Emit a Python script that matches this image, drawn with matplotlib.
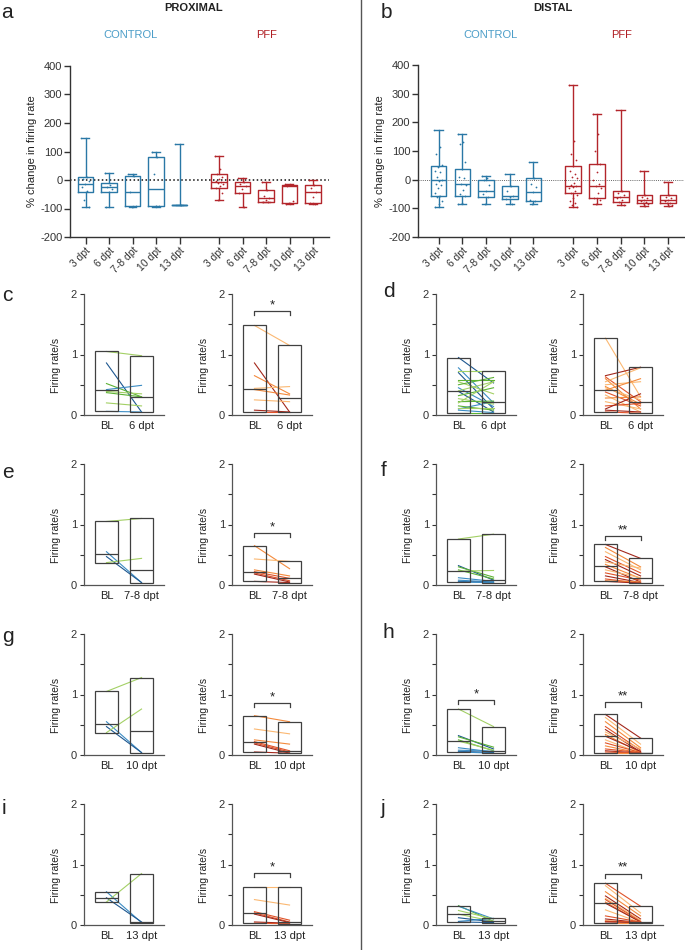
import matplotlib
matplotlib.use('Agg')
import matplotlib.pyplot as plt
import numpy as np

plt.rcParams['font.family'] = ['Liberation Sans', 'DejaVu Sans']
plt.rcParams['axes.unicode_minus'] = False

# ---------------- data ----------------
timepoints = ['3 dpt', '6 dpt', '7-8 dpt', '10 dpt', '13 dpt']

# panel a (proximal) box stats: max, q3, median, q1, min  (% change)
a_ctrl_max = [146, 23, 20, 99, 128]
a_ctrl_q3 = [12, -9, 14, 79, -88]
a_ctrl_med = [-14, -26, -42, -33, -88]
a_ctrl_q1 = [-41, -42, -92, -92, -88]
a_ctrl_min = [-93, -96, -93, -93, -88]
a_pff_max = [84, 8, -8, -15, 0]
a_pff_q3 = [20, -6, -35, -18, -18]
a_pff_med = [-6, -20, -64, -21, -43]
a_pff_q1 = [-27, -47, -76, -82, -82]
a_pff_min = [-70, -93, -78, -83, -83]

# panel b (distal)
b_ctrl_max = [173, 161, 13, 21, 63]
b_ctrl_q3 = [48, 37, -2, -21, 5]
b_ctrl_med = [0, -16, -40, -56, -44]
b_ctrl_q1 = [-58, -56, -61, -66, -76]
b_ctrl_min = [-96, -86, -86, -84, -84]
b_pff_max = [329, 230, 243, 30, -8]
b_pff_q3 = [48, 53, -38, -55, -52]
b_pff_med = [-23, -21, -61, -70, -72]
b_pff_q1 = [-47, -63, -77, -82, -82]
b_pff_min = [-96, -84, -90, -91, -93]

# individual points
a_ctrl_pts = [[146, 12, 5, -5, -14, -25, -40, -70, -93],
              [23, -18, -26, -32, -42, -96],
              [20, 14, -42, -90, -93],
              [99, 79, 22, -90, -92],
              [128, -88]]
a_pff_pts = [[84, 40, 20, 12, 5, -3, -6, -10, -15, -20, -27, -45, -70],
             [8, -6, -15, -20, -30, -47, -93],
             [-8, -35, -55, -64, -70, -76, -78],
             [-15, -18, -21, -75, -82, -83],
             [0, -18, -28, -43, -60, -82, -83]]
b_ctrl_pts = [[173, 115, 90, 50, 45, 30, 25, 10, 0, -5, -15, -20, -30, -45, -58, -60, -75, -85, -96],
              [161, 130, 125, 60, 37, 10, 5, -16, -20, -35, -50, -56, -80, -86],
              [13, 5, -2, -20, -40, -50, -61, -86],
              [21, -21, -40, -56, -60, -66, -84],
              [63, 5, -15, -25, -44, -70, -76, -84]]
b_pff_pts = [[329, 135, 90, 70, 48, 30, 20, 10, 5, -10, -18, -23, -25, -30, -40, -47, -55, -65, -75, -80, -90, -96],
             [230, 160, 100, 53, 25, 0, -15, -21, -30, -45, -63, -70, -84],
             [243, -38, -45, -55, -61, -65, -70, -77, -90],
             [30, -55, -60, -65, -70, -75, -78, -82, -85, -91],
             [-8, -52, -60, -65, -72, -75, -80, -82, -90, -93]]

# paired panels: baseline (BL) and post values per cell, colour index
c_ctrl_bl = [1.05, 0.86, 0.52, 0.42, 0.39, 0.37, 0.20, 0.06]
c_ctrl_post = [0.98, 0.05, 0.30, 0.49, 0.35, 0.30, 0.15, 0.05]
c_ctrl_col = [0, 3, 1, 2, 0, 1, 0, 2]
c_pff_bl = [1.48, 0.86, 0.65, 0.44, 0.42, 0.25, 0.08, 0.05]
c_pff_post = [1.15, 0.05, 0.35, 0.47, 0.33, 0.22, 0.05, 0.05]
c_pff_col = [0, 3, 1, 0, 1, 0, 3, 2]

d_ctrl_bl = [0.95, 0.78, 0.70, 0.45, 0.39, 0.08, 0.10, 0.72, 0.58, 0.55, 0.50, 0.40, 0.32, 0.27, 0.22, 0.20, 0.15, 0.12, 0.04]
d_ctrl_post = [0.53, 0.20, 0.10, 0.14, 0.05, 0.04, 0.22, 0.72, 0.58, 0.35, 0.62, 0.55, 0.45, 0.18, 0.23, 0.55, 0.08, 0.12, 0.04]
d_ctrl_col = [3, 2, 3, 2, 3, 2, 2, 0, 1, 0, 1, 0, 1, 0, 1, 0, 1, 0, 1]
d_pff_bl = [1.27, 0.65, 0.63, 0.60, 0.55, 0.50, 0.47, 0.45, 0.41, 0.38, 0.33, 0.28, 0.22, 0.15, 0.10, 0.08, 0.05]
d_pff_post = [0.30, 0.79, 0.22, 0.10, 0.78, 0.55, 0.18, 0.25, 0.60, 0.15, 0.05, 0.30, 0.10, 0.19, 0.35, 0.05, 0.03]
d_pff_col = [0, 3, 2, 1, 0, 0, 1, 0, 1, 2, 0, 1, 0, 2, 3, 3, 2]

e_ctrl_bl = [1.05, 0.55, 0.47, 0.37]
e_ctrl_post = [1.10, 0.04, 0.04, 0.44]
e_ctrl_col = [0, 2, 3, 0]
e_pff_bl = [0.65, 0.43, 0.25, 0.22, 0.20, 0.18, 0.06]
e_pff_post = [0.27, 0.39, 0.15, 0.11, 0.07, 0.05, 0.04]
e_pff_col = [1, 0, 1, 2, 2, 3, 3]

f_ctrl_bl = [0.76, 0.32, 0.30, 0.25, 0.23, 0.12, 0.08, 0.06, 0.05]
f_ctrl_post = [0.84, 0.08, 0.13, 0.10, 0.24, 0.06, 0.05, 0.04, 0.04]
f_ctrl_col = [0, 3, 1, 1, 0, 2, 2, 3, 2]
f_pff_bl = [0.67, 0.62, 0.55, 0.47, 0.42, 0.38, 0.34, 0.30, 0.25, 0.20, 0.15, 0.10, 0.07, 0.06]
f_pff_post = [0.44, 0.30, 0.25, 0.20, 0.15, 0.28, 0.11, 0.05, 0.12, 0.08, 0.04, 0.03, 0.05, 0.03]
f_pff_col = [3, 1, 0, 2, 3, 0, 1, 3, 0, 2, 3, 2, 1, 3]

g_ctrl_bl = [1.05, 0.55, 0.47, 0.37]
g_ctrl_post = [1.28, 0.04, 0.04, 0.76]
g_ctrl_col = [0, 2, 3, 0]
g_pff_bl = [0.65, 0.43, 0.25, 0.22, 0.20, 0.18, 0.05]
g_pff_post = [0.55, 0.35, 0.18, 0.07, 0.05, 0.03, 0.03]
g_pff_col = [1, 0, 1, 2, 2, 3, 3]

h_ctrl_bl = [0.76, 0.32, 0.30, 0.25, 0.23, 0.12, 0.08, 0.06, 0.05]
h_ctrl_post = [0.47, 0.10, 0.13, 0.07, 0.08, 0.05, 0.06, 0.04, 0.03]
h_ctrl_col = [0, 3, 1, 1, 0, 2, 2, 3, 2]
h_pff_bl = [0.67, 0.62, 0.55, 0.47, 0.42, 0.38, 0.34, 0.31, 0.25, 0.20, 0.15, 0.10, 0.07, 0.05, 0.03]
h_pff_post = [0.28, 0.18, 0.12, 0.08, 0.05, 0.10, 0.04, 0.06, 0.03, 0.04, 0.03, 0.04, 0.03, 0.03, 0.03]
h_pff_col = [3, 0, 1, 2, 3, 0, 1, 3, 0, 2, 1, 2, 3, 2, 1]

i_ctrl_bl = [0.55, 0.45, 0.38]
i_ctrl_post = [0.04, 0.05, 0.85]
i_ctrl_col = [2, 3, 0]
i_pff_bl = [0.63, 0.42, 0.22, 0.20, 0.18, 0.05, 0.03]
i_pff_post = [0.63, 0.33, 0.08, 0.05, 0.04, 0.03, 0.02]
i_pff_col = [0, 0, 2, 2, 3, 3, 2]

j_ctrl_bl = [0.32, 0.31, 0.24, 0.18, 0.12, 0.06, 0.05]
j_ctrl_post = [0.06, 0.10, 0.10, 0.06, 0.05, 0.11, 0.04]
j_ctrl_col = [1, 2, 0, 0, 3, 2, 3]
j_pff_bl = [0.69, 0.65, 0.55, 0.48, 0.44, 0.42, 0.38, 0.36, 0.25, 0.15, 0.10, 0.07, 0.06, 0.05, 0.04]
j_pff_post = [0.31, 0.20, 0.15, 0.10, 0.08, 0.06, 0.05, 0.05, 0.04, 0.05, 0.04, 0.04, 0.05, 0.04, 0.04]
j_pff_col = [2, 0, 1, 3, 0, 2, 1, 3, 0, 2, 3, 1, 2, 3, 1]

# ---------------- style ----------------
CTRL = '#2a78a6'
CTRL_TXT = '#4b9dc8'
PFF = '#b3262c'
PFF_TXT = '#b01f24'
ctrl_pal = ['#a3d065', '#5db234', '#3b8cc4', '#1d5790']
pff_pal = ['#fbb872', '#f48a3c', '#e0542a', '#a3281c']
GREY = '#404040'

W, H = 685, 950
fig = plt.figure(figsize=(6.85, 9.5), dpi=100)


def add_ax(l, t, r, b):
    return fig.add_axes([l / W, 1 - b / H, (r - l) / W, (b - t) / H])


def ftext(x, y, s, **kw):
    fig.text(x / W, 1 - y / H, s, **kw)


pos_ctrl = np.arange(5)
pos_pff = np.arange(5) + 5.68


def box_panel(l, t, r, b, xlim, ctrl_stats, pff_stats, ctrl_pts, pff_pts, zero_style):
    ax = add_ax(l, t, r, b)
    for pos, st, pts, col in ((pos_ctrl, ctrl_stats, ctrl_pts, CTRL), (pos_pff, pff_stats, pff_pts, PFF)):
        mx, q3, md, q1, mn = st
        stats = [dict(med=md[i], q1=q1[i], q3=q3[i], whislo=mn[i], whishi=mx[i]) for i in range(5)]
        ax.bxp(stats, positions=pos, widths=0.66, showfliers=False, patch_artist=False,
               boxprops=dict(color=col, lw=1.0), whiskerprops=dict(color=col, lw=1.0),
               capprops=dict(color=col, lw=1.0), medianprops=dict(color=col, lw=1.0),
               manage_ticks=False)
        for i, p in enumerate(pts):
            n = len(p)
            jit = ((np.arange(n) * 0.618) % 1 - 0.5) * 0.36
            ax.scatter(pos[i] + jit, p, s=1.6, color=col, lw=0, zorder=3)
    ax.axhline(0, **zero_style)
    ax.set_xlim(*xlim)
    ax.set_ylim(-200, 400)
    ax.set_yticks(np.arange(-200, 401, 100))
    ax.set_xticks(np.concatenate([pos_ctrl, pos_pff]))
    ax.set_xticklabels(timepoints * 2, rotation=45, ha='right', rotation_mode='anchor')
    for s in ('top', 'right'):
        ax.spines[s].set_visible(False)
    for s in ('left', 'bottom'):
        ax.spines[s].set_color('#333333')
        ax.spines[s].set_linewidth(1.0)
    ax.tick_params(axis='both', labelsize=8, colors='#333333', length=4, width=1.0, pad=1.5)
    ax.tick_params(axis='x', length=5, pad=1, labelsize=7.5)
    ax.set_ylabel('% change in firing rate', fontsize=8, color='#222222', labelpad=2)
    return ax


box_panel(70, 66, 329, 237, (-0.66, 10.36),
          (a_ctrl_max, a_ctrl_q3, a_ctrl_med, a_ctrl_q1, a_ctrl_min),
          (a_pff_max, a_pff_q3, a_pff_med, a_pff_q1, a_pff_min),
          a_ctrl_pts, a_pff_pts,
          dict(color='#111111', lw=1.1, ls=(0, (1, 1.6)), zorder=0))
box_panel(418, 65, 684, 237, (-0.87, 10.35),
          (b_ctrl_max, b_ctrl_q3, b_ctrl_med, b_ctrl_q1, b_ctrl_min),
          (b_pff_max, b_pff_q3, b_pff_med, b_pff_q1, b_pff_min),
          b_ctrl_pts, b_pff_pts,
          dict(color='#666666', lw=0.7, ls=(0, (1, 1.2)), zorder=0))


def paired(l, t, r, b, bl, post, cols, pal, xlab, sig=None, sig_y=None):
    ax = add_ax(l, t, r, b)
    bl = np.asarray(bl, float)
    post = np.asarray(post, float)
    for y0, y1, ci in zip(bl, post, cols):
        ax.plot([0, 1], [y0, y1], color=pal[ci], lw=0.8, zorder=2)
    for x, vals in ((0, bl), (1, post)):
        lo, hi, med = vals.min(), vals.max(), np.median(vals)
        ax.bar(x, hi - lo, bottom=lo, width=0.66, fill=False, edgecolor=GREY, lw=0.9, zorder=3)
        ax.hlines(med, x - 0.33, x + 0.33, color=GREY, lw=0.9, zorder=3)
    if sig:
        ax.plot([0, 0, 1, 1], [sig_y - 0.07, sig_y, sig_y, sig_y - 0.07], color=GREY, lw=0.9)
        ax.text(0.5, sig_y + 0.0, sig, ha='center', va='bottom', fontsize=9.5, color='#222222')
    ax.set_xlim(-0.64, 1.64)
    ax.set_ylim(0, 2)
    ax.set_yticks([0, 0.5, 1, 1.5, 2])
    ax.set_yticklabels(['0', '', '1', '', '2'])
    ax.set_xticks([0, 1])
    ax.set_xticklabels(['BL', xlab])
    for s in ('top', 'right'):
        ax.spines[s].set_visible(False)
    for s in ('left', 'bottom'):
        ax.spines[s].set_color('#555555')
        ax.spines[s].set_linewidth(0.9)
    ax.tick_params(axis='y', labelsize=8, colors='#333333', length=3, width=0.8, pad=2)
    ax.tick_params(axis='x', labelsize=8, colors='#222222', length=0, pad=4)
    ax.set_ylabel('Firing rate/s', fontsize=7.5, color='#222222')
    ax.yaxis.set_label_coords(-0.29, 0.41)
    return ax


rows = [(294, 415), (464, 585), (634, 755), (804, 925)]
cols_x = [(84, 164), (232, 312), (436, 516), (583, 663)]
labels_post = ['6 dpt', '7-8 dpt', '10 dpt', '13 dpt']

panels = [
    [(c_ctrl_bl, c_ctrl_post, c_ctrl_col, None, None), (c_pff_bl, c_pff_post, c_pff_col, '*', 1.72),
     (d_ctrl_bl, d_ctrl_post, d_ctrl_col, None, None), (d_pff_bl, d_pff_post, d_pff_col, None, None)],
    [(e_ctrl_bl, e_ctrl_post, e_ctrl_col, None, None), (e_pff_bl, e_pff_post, e_pff_col, '*', 0.86),
     (f_ctrl_bl, f_ctrl_post, f_ctrl_col, None, None), (f_pff_bl, f_pff_post, f_pff_col, '**', 0.81)],
    [(g_ctrl_bl, g_ctrl_post, g_ctrl_col, None, None), (g_pff_bl, g_pff_post, g_pff_col, '*', 0.86),
     (h_ctrl_bl, h_ctrl_post, h_ctrl_col, '*', 0.91), (h_pff_bl, h_pff_post, h_pff_col, '**', 0.87)],
    [(i_ctrl_bl, i_ctrl_post, i_ctrl_col, None, None), (i_pff_bl, i_pff_post, i_pff_col, '*', 0.86),
     (j_ctrl_bl, j_ctrl_post, j_ctrl_col, None, None), (j_pff_bl, j_pff_post, j_pff_col, '**', 0.85)],
]

for ri, (t, b) in enumerate(rows):
    for ci, (l, r) in enumerate(cols_x):
        bl, post, colidx, sig, sy = panels[ri][ci]
        pal = ctrl_pal if ci in (0, 2) else pff_pal
        paired(l, t, r, b, bl, post, colidx, pal, labels_post[ri], sig, sy)

# ---------------- texts ----------------
ftext(194, 8, 'PROXIMAL', ha='center', va='center', fontsize=8, fontweight='bold', color='#222222')
ftext(553, 8, 'DISTAL', ha='center', va='center', fontsize=8, fontweight='bold', color='#222222')
ftext(131, 35, 'CONTROL', ha='center', va='center', fontsize=8, color=CTRL_TXT)
ftext(267, 35, 'PFF', ha='center', va='center', fontsize=8, color=PFF_TXT)
ftext(490, 35, 'CONTROL', ha='center', va='center', fontsize=8, color=CTRL_TXT)
ftext(622, 35, 'PFF', ha='center', va='center', fontsize=8, color=PFF_TXT)

letters = [('a', 1, 12), ('b', 381, 13), ('c', 2, 295), ('d', 383, 292),
           ('e', 2, 472), ('f', 381, 470), ('g', 2, 636), ('h', 383, 633),
           ('i', 2, 808), ('j', 381, 808)]
for s, x, y in letters:
    ftext(x, y, s, ha='left', va='center', fontsize=15, color='#222222')

# divider
fig.add_artist(plt.Line2D([361 / W, 361 / W], [0, 1], color='#555555', lw=1.0))

fig.savefig('out.png', dpi=100)
